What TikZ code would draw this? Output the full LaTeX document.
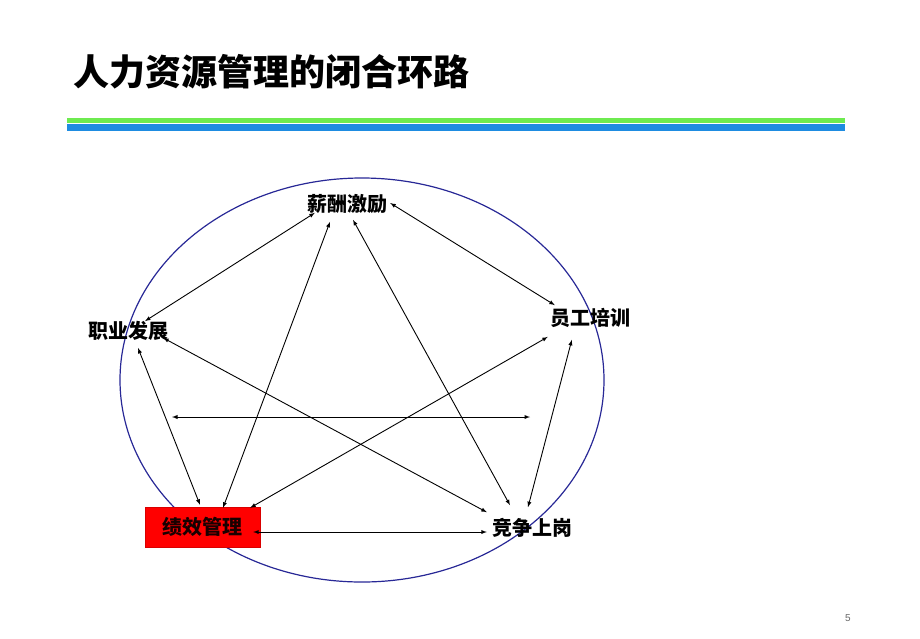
\documentclass[tikz,border=0pt]{standalone}
\usepackage{fontspec}
\setsansfont{Liberation Sans}
\newfontfamily\cjk{Noto Sans CJK SC}
\usetikzlibrary{arrows, calc}
\definecolor{ringblue}{RGB}{40,40,150}
\definecolor{bargreen}{RGB}{110,235,80}
\definecolor{barblue}{RGB}{30,140,225}

\begin{document}
\begin{tikzpicture}[x=1pt, y=-1pt]
\tikzstyle{item} = [font=\cjk\bfseries\fontsize{20}{20}\selectfont, inner sep=0pt]
\tikzstyle{connect} = [latex-latex, line width=0.9pt]
\useasboundingbox (0,0) rectangle (920,638);
  % title and bars
  \node[font=\cjk\bfseries\fontsize{36}{36}\selectfont, anchor=west, inner sep=0pt] (title) at (73,72) {人力资源管理的闭合环路};
  \fill[bargreen] (67,118) rectangle (845,122.5);
  \fill[barblue] (67,124) rectangle (845,130.5);
  \draw[ringblue, line width=1.2pt] (362,380) ellipse [x radius=242, y radius=202];
  % the five stages
  \node[item] (xc) at (347,204) {薪酬激励};
  \node[item] (zy) at (128,331) {职业发展};
  \node[item] (yg) at (590,318) {员工培训};
  \node[item] (jz) at (532,528) {竞争上岗};
  \node[item, fill=red, draw=red!85!black, text=black!90!red, minimum width=115pt, minimum height=40pt] (jx) at (202.5,527) {绩效管理};
  \coordinate (hl) at (172,417);
  \coordinate (hr) at (530,417);
  % links
  \draw[connect] ($(xc.south west)+(8,-1)$) -- ($(zy.north)+(17,0)$);
  \draw[connect] ($(xc.east)+(3,-1)$) -- ($(yg.north west)+(5,-3)$);
  \draw[connect] ($(xc.south)+(-17,8)$) -- ($(jx.north)+(20.5,1)$);
  \draw[connect] ($(xc.south)+(6,6)$) -- ($(jz.north)+(-22,-13)$);
  \draw[connect] ($(zy.south east)+(-5,-3)$) -- ($(jz.north west)+(-5,-6)$);
  \draw[connect] ($(zy.south)+(10,7)$) -- ($(jx.north)+(-2.5,-2)$);
  \draw[connect] ($(yg.south west)+(-2,9)$) -- ($(jx.north east)+(-10,1)$);
  \draw[connect] ($(yg.south west)+(22,12)$) -- ($(jz.north)+(-4,-11)$);
  \draw[connect] ($(jx.east)+(-7,5)$) -- ($(jz.west)+(-5,4)$);
  \draw[connect] (hl) -- (hr);
  \node[font=\sffamily\fontsize{10}{10}\selectfont, text=black!60] (pg) at (848,618) {5};
\end{tikzpicture}
\end{document}
